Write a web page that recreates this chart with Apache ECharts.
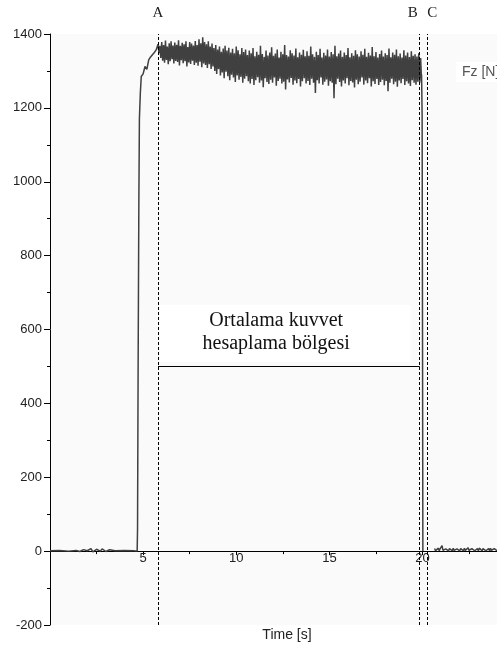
<!DOCTYPE html>
<html>
<head>
<meta charset="utf-8">
<script src="https://cdn.jsdelivr.net/npm/echarts@6/dist/echarts.min.js"></script>
<style>
html,body{margin:0;padding:0;background:#fff;}
#chart{width:497px;height:648px;}
</style>
</head>
<body>
<div id="chart"></div>
<script>
// ---- data ----
// quiet phase and rise: [time s, force N]
const preSignal = [
  [0,1],[0.5,2],[1.0,0],[1.4,2],[1.5,5],[1.6,-1],[1.8,4],[2.0,1],[2.2,7],[2.3,-2],
  [2.5,5],[2.7,0],[2.8,6],[3.0,-1],[3.2,4],[3.5,1],[4.0,2],[4.5,1],[4.68,0],
  [4.70,60],[4.73,480],[4.77,940],[4.80,1170],[4.85,1240],[4.90,1285],[5.0,1292],
  [5.1,1312],[5.2,1304],[5.3,1330],[5.4,1338],[5.5,1334],[5.6,1350],[5.7,1357]
];
// steady phase (from A) sampled every 0.1 s: upper / lower envelope
const bandStart = 5.8, bandStep = 0.1;
const bandHi = [
  1372,1368,1378,1370,1382,1366,1375,1380,1369,1377,
  1371,1383,1368,1376,1372,1380,1365,1378,1374,1369,
  1381,1370,1386,1375,1391,1378,1372,1380,1366,1374,
  1362,1370,1358,1366,1352,1361,1368,1355,1363,1350,
  1360,1348,1366,1356,1345,1362,1351,1358,1343,1355,
  1348,1362,1340,1352,1344,1368,1346,1338,1355,1342,
  1350,1364,1341,1347,1358,1336,1352,1345,1370,1343,
  1339,1356,1348,1342,1361,1337,1350,1344,1357,1340,
  1353,1341,1366,1345,1338,1352,1343,1360,1336,1349,
  1342,1358,1339,1351,1345,1368,1340,1347,1355,1338,
  1350,1343,1362,1337,1348,1341,1356,1345,1339,1353,
  1344,1360,1338,1349,1342,1365,1340,1351,1336,1346,
  1355,1339,1348,1343,1361,1337,1350,1344,1358,1340,
  1347,1336,1356,1342,1350,1338,1353,1341,1345,1339,
  1348,1335
];
const bandLo = [
  1348,1335,1328,1322,1330,1318,1326,1332,1320,1327,
  1324,1315,1329,1321,1326,1312,1323,1319,1328,1316,
  1322,1314,1325,1310,1320,1316,1308,1318,1305,1312,
  1300,1292,1305,1288,1296,1280,1298,1286,1275,1290,
  1282,1270,1288,1276,1284,1268,1279,1286,1272,1266,
  1278,1262,1275,1283,1268,1274,1256,1280,1270,1265,
  1276,1268,1282,1260,1273,1279,1266,1271,1250,1277,
  1269,1281,1263,1274,1267,1278,1258,1272,1280,1266,
  1273,1262,1279,1268,1240,1275,1266,1282,1263,1271,
  1277,1260,1272,1268,1226,1264,1279,1270,1258,1274,
  1266,1280,1261,1273,1269,1255,1276,1264,1271,1282,
  1263,1274,1267,1280,1258,1272,1265,1278,1262,1270,
  1276,1261,1273,1245,1268,1279,1264,1271,1257,1274,
  1267,1278,1262,1272,1266,1259,1275,1268,1263,1271,
  1268,1272
];
// release (drop to zero)
const dropSignal = [[19.95,1290],[19.98,1180],[20.0,600],[20.02,0]];
// after release, sampled every 0.05 s from 20.65 s
const postStart = 20.65, postStep = 0.05;
const postVals = [
  7,1,6,2,8,1,7,3,15,2,7,1,6,2,8,1,7,2,6,1,
  8,2,7,1,6,3,8,1,7,2,6,1,8,2,7,1,9,2,6,1,
  7,2,8,1,6,2,7,1,8,3,6,1,7,2,8,1,6,2,7,1,
  8,2,6,1,7,2,8,1
];
// event markers
const markerNames = ['A','B','C'];
const markerTimes = [5.8, 19.85, 20.25];
const markerLabelShift = [0, -7, 5];
const avgLevel = 500;
const avgText = 'Ortalama kuvvet\nhesaplama bölgesi';
const xTicks = [5,10,15,20];
const yTicks = [-200,0,200,400,600,800,1000,1200,1400];
const yMin = -200, yMax = 1400;

// ---- build series ----
const signal = preSignal.slice();
for (let i = 0; i < bandHi.length; i++) {
  const t = bandStart + i * bandStep;
  signal.push([t, bandHi[i]]);
  signal.push([t + bandStep / 2, bandLo[i]]);
}
dropSignal.forEach(p => signal.push(p));
signal.push([20.3, null]);
postVals.forEach((v, i) => signal.push([postStart + i * postStep, v]));

const W = 497, H = 648;
const gridTop = 34, gridBottom = 23;
const gridH = H - gridTop - gridBottom;
const zeroOffset = gridH * (0 - yMin) / (yMax - yMin);

const chart = echarts.init(document.getElementById('chart'), null, {renderer: 'canvas'});
const sans = 'Liberation Sans, Arial, sans-serif';
const serif = 'Liberation Serif, Times New Roman, serif';

const option = {
  animation: false,
  backgroundColor: '#ffffff',
  grid: {left: 50, right: 0, top: gridTop, bottom: gridBottom, show: true, backgroundColor: '#fafafa', borderWidth: 0},
  xAxis: {
    type: 'value', min: 0, max: 24, interval: 5,
    offset: -zeroOffset,
    axisLine: {onZero: false, lineStyle: {color: '#000', width: 1}},
    axisTick: {length: 4, lineStyle: {color: '#000'}},
    minorTick: {show: true, splitNumber: 2, length: 3, lineStyle: {color: '#000'}},
    splitLine: {show: false},
    axisLabel: {
      margin: 1, color: '#222', fontFamily: sans, fontSize: 13,
      showMinLabel: false, showMaxLabel: false,
      formatter: v => xTicks.indexOf(v) >= 0 ? String(v) : ''
    }
  },
  yAxis: {
    type: 'value', min: yMin, max: yMax, interval: 200,
    axisLine: {show: true, onZero: false, lineStyle: {color: '#000', width: 1}},
    axisTick: {show: true, length: 6, lineStyle: {color: '#000'}},
    minorTick: {show: true, splitNumber: 2, length: 3, lineStyle: {color: '#000'}},
    splitLine: {show: false},
    axisLabel: {
      margin: 8, color: '#222', fontFamily: sans, fontSize: 13,
      formatter: v => yTicks.indexOf(v) >= 0 ? String(v) : ''
    }
  },
  series: [{
    type: 'line',
    data: signal,
    showSymbol: false,
    connectNulls: false,
    lineStyle: {color: '#404040', width: 1.5},
    z: 3,
    markArea: {
      silent: true,
      itemStyle: {color: '#ffffff'},
      data: [[{coord: [5.9, 512]}, {coord: [19.35, 666]}]]
    },
    markLine: {
      silent: true,
      symbol: 'none',
      animation: false,
      label: {show: false},
      lineStyle: {color: '#000', type: [3, 2], width: 1},
      data: markerTimes.map(t => ({xAxis: t})).concat([
        [{coord: [markerTimes[0], avgLevel], lineStyle: {type: 'solid', color: '#000', width: 1}},
         {coord: [markerTimes[1], avgLevel]}]
      ])
    }
  }]
};
chart.setOption(option);

// text placed at data-derived positions
const gfx = [];
markerNames.forEach((n, i) => {
  const px = chart.convertToPixel({xAxisIndex: 0}, markerTimes[i]);
  gfx.push({type: 'text', x: px + markerLabelShift[i], y: 13,
    style: {text: n, fontFamily: serif, fontSize: 15, fill: '#222', align: 'center', verticalAlign: 'middle'}});
});
const c1 = chart.convertToPixel({seriesIndex: 0}, [5.9, 666]);
const c2 = chart.convertToPixel({seriesIndex: 0}, [19.35, 512]);
gfx.push({type: 'text', x: (c1[0] + c2[0]) / 2 - 9, y: (c1[1] + c2[1]) / 2 - 1, z: 20,
  style: {text: avgText, font: '20px ' + serif, lineHeight: 23, fill: '#111', align: 'center', verticalAlign: 'middle'}});
gfx.push({type: 'rect', shape: {x: 456, y: 62, width: 41, height: 20}, style: {fill: '#ffffff'}, z: 10});
gfx.push({type: 'text', x: 462, y: 72, z: 11,
  style: {text: 'Fz [N]', fontFamily: sans, fontSize: 14, fill: '#555', align: 'left', verticalAlign: 'middle'}});
gfx.push({type: 'text', x: 287, y: 635,
  style: {text: 'Time [s]', fontFamily: sans, fontSize: 14, fill: '#222', align: 'center', verticalAlign: 'middle'}});
chart.setOption({graphic: gfx});
</script>
</body>
</html>
